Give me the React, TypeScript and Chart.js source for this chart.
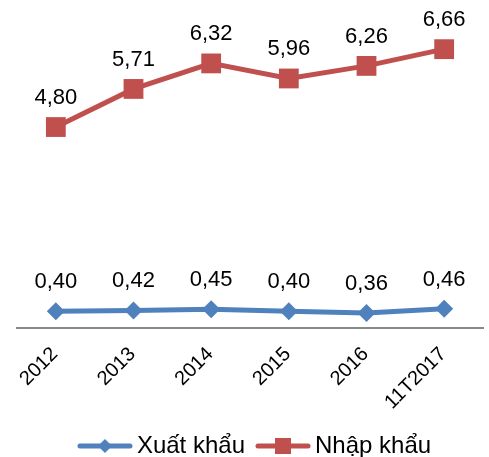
import React, { useEffect, useRef } from "react";
import { Chart, registerables } from "chart.js";

Chart.register(...registerables);

const categories = ["2012", "2013", "2014", "2015", "2016", "11T2017"];
const xuatKhau = [0.4, 0.42, 0.45, 0.4, 0.36, 0.46];
const nhapKhau = [4.8, 5.71, 6.32, 5.96, 6.26, 6.66];
const seriesNames = ["Xuất khẩu", "Nhập khẩu"];

const BLUE = "#4F81BD";
const RED = "#C0504D";
const FONT = "'Liberation Sans', Arial, sans-serif";
const BOTTOM_PAD = -10;

function legendIcon(color: string, kind: "diamond" | "square"): HTMLCanvasElement {
  const c = document.createElement("canvas");
  c.width = 56;
  c.height = 20;
  const ctx = c.getContext("2d")!;
  ctx.strokeStyle = color;
  ctx.lineWidth = 5;
  ctx.lineCap = "round";
  ctx.beginPath();
  ctx.moveTo(3, 10);
  ctx.lineTo(53, 10);
  ctx.stroke();
  ctx.fillStyle = color;
  ctx.beginPath();
  if (kind === "diamond") {
    ctx.moveTo(28, 3);
    ctx.lineTo(35, 10);
    ctx.lineTo(28, 17);
    ctx.lineTo(21, 10);
    ctx.closePath();
  } else {
    ctx.rect(20, 2, 16, 16);
  }
  ctx.fill();
  return c;
}

const dataLabels = {
  id: "dataLabels",
  afterDatasetsDraw(chart: any) {
    const ctx = chart.ctx;
    ctx.save();
    ctx.font = `22px ${FONT}`;
    ctx.fillStyle = "#000";
    ctx.textAlign = "center";
    ctx.textBaseline = "alphabetic";
    chart.data.datasets.forEach((ds: any, i: number) => {
      const meta = chart.getDatasetMeta(i);
      meta.data.forEach((pt: any, j: number) => {
        const v = ds.data[j] as number;
        ctx.fillText(v.toFixed(2).replace(".", ","), pt.x, pt.y - 23);
      });
    });
    ctx.restore();
  },
};

// rotated category labels drawn from the x scale's own tick positions
const rotatedTicks = {
  id: "rotatedTicks",
  afterDraw(chart: any) {
    const scale = chart.scales.x;
    const ctx = chart.ctx;
    ctx.save();
    ctx.font = `20px ${FONT}`;
    ctx.fillStyle = "#000";
    ctx.textAlign = "right";
    ctx.textBaseline = "middle";
    scale.ticks.forEach((_t: any, i: number) => {
      const x = scale.getPixelForTick(i);
      ctx.save();
      ctx.translate(x - 1, scale.top + 23);
      ctx.rotate(-Math.PI / 4);
      ctx.fillText(String(chart.data.labels[i]), 0, 0);
      ctx.restore();
    });
    ctx.restore();
  },
};

const shiftLegend = {
  id: "shiftLegend",
  afterLayout(chart: any) {
    const lg = chart.legend;
    if (!lg) return;
    lg.left += 8;
    lg.right += 8;
    lg.top += 1;
    lg.bottom += 1;
  },
};

export default function App() {
  const ref = useRef<HTMLCanvasElement>(null);
  useEffect(() => {
    if (!ref.current) return;
    const chart = new Chart(ref.current, {
      type: "line",
      data: {
        labels: categories,
        datasets: [
          {
            label: seriesNames[0],
            data: xuatKhau,
            borderColor: BLUE,
            backgroundColor: BLUE,
            borderWidth: 5,
            pointStyle: "rectRot",
            pointRadius: 9,
            pointBorderWidth: 0,
            tension: 0,
          },
          {
            label: seriesNames[1],
            data: nhapKhau,
            borderColor: RED,
            backgroundColor: RED,
            borderWidth: 5,
            pointStyle: "rect",
            pointRadius: 14,
            pointBorderWidth: 0,
            tension: 0,
          },
        ],
      },
      options: {
        responsive: false,
        animation: false,
        layout: { autoPadding: false, padding: { top: 14, left: 17, right: 6, bottom: BOTTOM_PAD } },
        plugins: {
          tooltip: { enabled: false },
          legend: {
            position: "bottom",
            labels: {
              usePointStyle: true,
              pointStyleWidth: 40,
              padding: 18,
              color: "#000",
              font: { family: FONT, size: 24 },
              generateLabels: (ch: any) =>
                ch.data.datasets.map((ds: any, i: number) => ({
                  text: ds.label,
                  pointStyle: legendIcon(i === 0 ? BLUE : RED, i === 0 ? "diamond" : "square"),
                  fillStyle: ds.borderColor,
                  strokeStyle: ds.borderColor,
                  lineWidth: 0,
                  hidden: false,
                  datasetIndex: i,
                  fontColor: "#000",
                })),
            },
          },
        },
        scales: {
          x: {
            offset: true,
            grid: { display: false, drawTicks: false },
            border: { display: true, color: "#898989", width: 2 },
            ticks: { display: false },
            afterFit: (scale: any) => {
              const lh = scale.chart.legend ? scale.chart.legend.height : 40;
              scale.height = 457 - BOTTOM_PAD - 328 - lh;
              scale.paddingLeft = 0;
              scale.paddingRight = 0;
            },
          },
          y: { display: false, min: 0, max: 7.5 },
        },
      },
      plugins: [dataLabels, rotatedTicks, shiftLegend],
    });
    return () => chart.destroy();
  }, []);
  return (
    <div style={{ position: "absolute", left: 0, top: 0, width: 489, height: 457 }}>
      <canvas ref={ref} width={489} height={457} />
    </div>
  );
}
